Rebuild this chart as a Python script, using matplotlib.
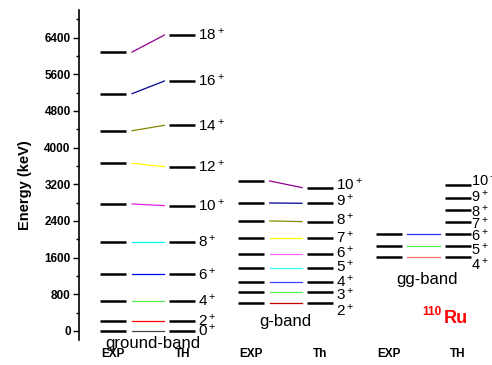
import numpy as np
import matplotlib.pyplot as plt
from matplotlib.ticker import MultipleLocator

plt.rcParams['font.family'] = ['Liberation Sans', 'DejaVu Sans']
plt.rcParams['mathtext.default'] = 'regular'

# columns: 1 EXP gb, 2 TH gb, 3 EXP g, 4 Th g, 5 EXP gg, 6 TH gg
col_names = ['EXP', 'TH', 'EXP', 'Th', 'EXP', 'TH']

# ground band
gb_spin = [0, 2, 4, 6, 8, 10, 12, 14, 16, 18]
gb_exp = [0, 225, 654, 1236, 1940, 2768, 3655, 4366, 5174, 6082]
gb_th = [0, 225, 654, 1236, 1940, 2732, 3582, 4484, 5450, 6453]
gb_col = ['#444444', 'red', '#55EE55', 'blue', 'cyan', '#E020E0', 'yellow', '#888800', '#000090', '#900090']

# gamma (g) band
g_spin = [2, 3, 4, 5, 6, 7, 8, 9, 10]
g_exp = [603, 850, 1075, 1381, 1686, 2021, 2398, 2790, 3270]
g_th = [603, 850, 1075, 1381, 1686, 2021, 2383, 2783, 3125]
g_col = ['#C00000', '#55EE55', '#4040FF', '#33FFFF', '#FF66FF', 'yellow', '#888800', '#000090', '#900090']
g_lab = [442, 785, 1068, 1395, 1707, 2043, 2420, 2840, 3198]

# gg band
gg_exp = [1620, 1860, 2114]
gg_col = ['#F07070', '#55EE55', '#3030FF']
gg_spin = [4, 5, 6, 7, 8, 9, 10]
gg_th = [1620, 1860, 2114, 2376, 2631, 2893, 3176]
gg_lab = [1440, 1766, 2071, 2333, 2610, 2928, 3270]

fig = plt.figure(figsize=(4.92, 3.65), dpi=100)
ax = fig.add_axes([79/492, 25/365, 413/492, 330/365])

hw = 0.19


def band(x_exp, x_th, e_exp, e_th, colors):
    ax.hlines(e_exp, x_exp - hw, x_exp + hw, color='black', lw=1.8)
    ax.hlines(e_th, x_th - hw, x_th + hw, color='black', lw=1.8)
    n = min(len(e_exp), len(e_th))
    for i in range(n):
        ax.plot([x_exp + 0.27, x_th - 0.26], [e_exp[i], e_th[i]], color=colors[i], lw=0.9)


band(1, 2, gb_exp, gb_th, gb_col)
band(3, 4, g_exp, g_th, g_col)
band(5, 6, gg_exp, gg_th, gg_col)

for s, e in zip(gb_spin, gb_th):
    ax.text(2 + 0.23, e, '%d$^+$' % s, fontsize=11, va='center')
for s, e in zip(g_spin, g_lab):
    ax.text(4 + 0.23, e, '%d$^+$' % s, fontsize=11, va='center')
for s, e in zip(gg_spin, gg_lab):
    ax.text(6 + 0.2, e, '%d$^+$' % s, fontsize=10.5, va='center')

ax.text(1.57, -270, 'ground-band', fontsize=12, ha='center', va='center')
ax.text(3.5, 200, 'g-band', fontsize=12, ha='center', va='center')
ax.text(5.55, 1120, 'gg-band', fontsize=12, ha='center', va='center')
ax.text(5.63, 414, '110', fontsize=8.5, color='red', fontweight='bold', ha='center', va='center')
ax.text(5.98, 260, 'Ru', fontsize=13, color='red', fontweight='bold', ha='center', va='center')

ax.set_xlim(0.5, 6.5)
ax.set_ylim(-200, 7000)
ax.set_xticks(range(1, 7))
ax.set_xticklabels(col_names, fontsize=8.5, fontweight='bold')
ax.tick_params(axis='x', length=0, pad=6)
ax.set_yticks(np.arange(0, 6401, 800))
ax.yaxis.set_minor_locator(MultipleLocator(400))
ax.tick_params(axis='y', which='major', length=4, width=1, pad=2, labelsize=8.5)
ax.tick_params(axis='y', which='minor', length=2.5, width=1)
for lab in ax.get_yticklabels():
    lab.set_fontweight('bold')
ax.set_ylabel('Energy (keV)', fontsize=10.5, fontweight='bold')
ax.yaxis.set_label_coords(-0.115, 0.47)

for side in ['top', 'right', 'bottom']:
    ax.spines[side].set_visible(False)
ax.spines['left'].set_linewidth(1.2)
ax.patch.set_alpha(0)

fig.savefig('out.png', dpi=100)
